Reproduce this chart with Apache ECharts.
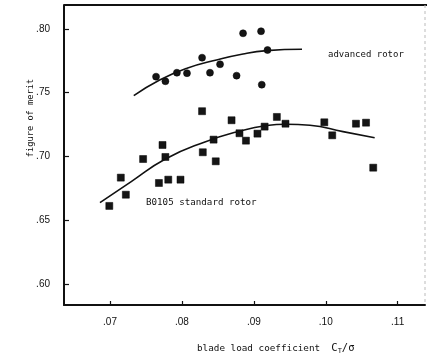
<!DOCTYPE html>
<html>
<head>
<meta charset="utf-8">
<script src="https://cdn.jsdelivr.net/npm/echarts@6/dist/echarts.min.js"></script>
<style>
  html, body { margin: 0; padding: 0; background: #fff; }
  #chart { width: 427px; height: 362px; }
</style>
</head>
<body>
<div id="chart"></div>
<script>
// ---- data ----
var advancedX = [0.0764, 0.0777, 0.0793, 0.0807, 0.0828, 0.0839, 0.0853, 0.0876, 0.0885, 0.0910, 0.0911, 0.0919];
var advancedY = [0.7626, 0.7590, 0.7657, 0.7653, 0.7775, 0.7657, 0.7723, 0.7634, 0.7966, 0.7982, 0.7563, 0.7835];

var standardX = [0.0699, 0.0715, 0.0722, 0.0746, 0.0768, 0.0773, 0.0777, 0.0781, 0.0798, 0.0828, 0.0829, 0.0844, 0.0847,
                 0.0869, 0.0880, 0.0889, 0.0905, 0.0915, 0.0932, 0.0944, 0.0998, 0.1009, 0.1042, 0.1056, 0.1066];
var standardY = [0.6612, 0.6834, 0.6700, 0.6980, 0.6792, 0.7090, 0.6996, 0.6818, 0.6818, 0.7355, 0.7033, 0.7132, 0.6962,
                 0.7284, 0.7182, 0.7124, 0.7179, 0.7234, 0.7310, 0.7257, 0.7268, 0.7166, 0.7257, 0.7265, 0.6912];

var advancedFitX = [0.0733, 0.0769, 0.0807, 0.0848, 0.0885, 0.0918, 0.0967];
var advancedFitY = [0.7477, 0.7600, 0.7692, 0.7757, 0.7804, 0.7830, 0.7841];

var standardFitX = [0.0686, 0.0730, 0.0777, 0.0830, 0.0881, 0.0918, 0.0945, 0.0978, 0.1024, 0.1068];
var standardFitY = [0.6638, 0.6805, 0.6980, 0.7110, 0.7200, 0.7243, 0.7253, 0.7245, 0.7195, 0.7147];

var xTickValues = [0.07, 0.08, 0.09, 0.10, 0.11];
var xTickLabels = ['.07', '.08', '.09', '.10', '.11'];
var yTickValues = [0.60, 0.65, 0.70, 0.75, 0.80];
var yTickLabels = ['.60', '.65', '.70', '.75', '.80'];

var seriesNames = ['advanced rotor', 'B0105 standard rotor'];

function zip(xs, ys) { return xs.map(function (x, i) { return [x, ys[i]]; }); }
function lookup(vals, labels) {
  return function (v) {
    for (var i = 0; i < vals.length; i++) if (Math.abs(vals[i] - v) < 1e-6) return labels[i];
    return '';
  };
}

var chart = echarts.init(document.getElementById('chart'), null, { renderer: 'canvas' });
var monoFont = '"DejaVu Sans Mono", monospace';
var tickFont = '"Liberation Sans", Arial, sans-serif';

chart.setOption({
  animation: false,
  backgroundColor: '#fff',
  grid: { left: 64, right: 2, top: 5, bottom: 57, show: false },
  xAxis: {
    type: 'value', min: 0.0636, max: 0.1138,
    axisLine: { show: true, lineStyle: { color: '#111', width: 2 } },
    axisTick: { show: true, inside: true, length: 4, customValues: xTickValues, lineStyle: { color: '#111', width: 1.2 } },
    axisLabel: { customValues: xTickValues, formatter: lookup(xTickValues, xTickLabels), margin: 12,
                 color: '#111', fontSize: 10, fontFamily: tickFont },
    splitLine: { show: false }
  },
  yAxis: {
    type: 'value', min: 0.5835, max: 0.8188,
    axisLine: { show: true, lineStyle: { color: '#111', width: 2 } },
    axisTick: { show: true, inside: true, length: 5, customValues: yTickValues, lineStyle: { color: '#111', width: 1.2 } },
    axisLabel: { customValues: yTickValues, formatter: lookup(yTickValues, yTickLabels), margin: 14,
                 color: '#111', fontSize: 10, fontFamily: tickFont },
    splitLine: { show: false }
  },
  graphic: [
    { type: 'line', shape: { x1: 64, y1: 5, x2: 427, y2: 5 }, style: { stroke: '#111', lineWidth: 2 } },
    { type: 'line', shape: { x1: 425, y1: 5, x2: 425, y2: 305 }, style: { stroke: '#bbb', lineWidth: 1, lineDash: [3, 3] } },
    { type: 'text', left: 328, top: 50, style: { text: seriesNames[0], font: '9px ' + monoFont, fill: '#111' } },
    { type: 'text', left: 146, top: 198, style: { text: seriesNames[1], font: '9.2px ' + monoFont, fill: '#111' } },
    { type: 'text', x: 31, y: 118, rotation: Math.PI / 2,
      style: { text: 'figure of merit', font: '8.7px ' + monoFont, fill: '#111', align: 'center', verticalAlign: 'middle' } },
    { type: 'text', left: 197, top: 343,
      style: {
        rich: {
          a: { fontFamily: monoFont, fontSize: 9.3, fill: '#111' },
          b: { fontFamily: monoFont, fontSize: 10.5, fill: '#111' },
          s: { fontFamily: monoFont, fontSize: 7, fill: '#111', padding: [6, 0, 0, 0] }
        },
        text: '{a|blade load coefficient  }{b|C}{s|T}{b|/σ}'
      } }
  ],
  series: [
    { name: 'advanced fit', type: 'line', data: zip(advancedFitX, advancedFitY), smooth: true, showSymbol: false,
      lineStyle: { color: '#111', width: 1.6 }, silent: true },
    { name: 'standard fit', type: 'line', data: zip(standardFitX, standardFitY), smooth: true, showSymbol: false,
      lineStyle: { color: '#111', width: 1.6 }, silent: true },
    { name: seriesNames[0], type: 'scatter', data: zip(advancedX, advancedY), symbol: 'circle', symbolSize: 7,
      itemStyle: { color: '#151515', opacity: 1, borderColor: '#000', borderWidth: 0.5 } },
    { name: seriesNames[1], type: 'scatter', data: zip(standardX, standardY), symbol: 'rect', symbolSize: 7,
      itemStyle: { color: '#151515', opacity: 1, borderColor: '#000', borderWidth: 0.5 } }
  ]
});
</script>
</body>
</html>
